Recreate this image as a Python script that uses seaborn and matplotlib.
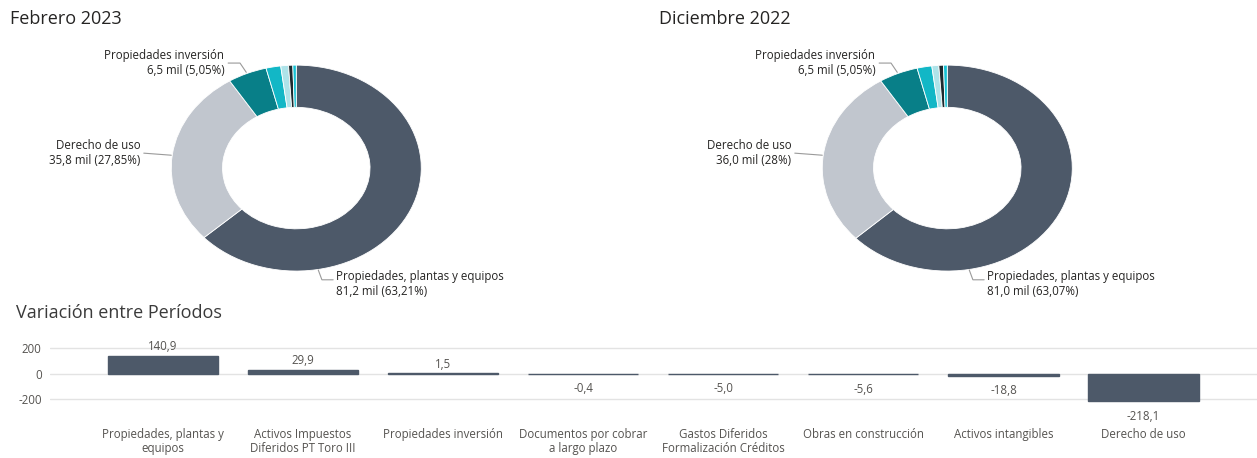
import numpy as np
import matplotlib
matplotlib.use('Agg')
import matplotlib.pyplot as plt
import seaborn as sns

sns.set_theme(style='white')
plt.rcParams['font.family'] = ['Open Sans', 'DejaVu Sans']

# --- data ---
slice_names = ['Propiedades, plantas y equipos', 'Derecho de uso', 'Propiedades inversión',
               'Activos Impuestos Diferidos PT Toro III', 'Activos intangibles',
               'Obras en construcción', 'Gastos Diferidos Formalización Créditos']
slice_colors = ['#4d5969', '#c1c6ce', '#087f88', '#12b7c6', '#aee3e9', '#1c2a2f', '#16c2d4']
feb_pct = [63.21, 27.85, 5.05, 1.9, 1.0, 0.55, 0.44]
dic_pct = [63.07, 28.0, 5.05, 1.9, 0.9, 0.6, 0.48]
feb_values = ['81,2 mil (63,21%)', '35,8 mil (27,85%)', '6,5 mil (5,05%)']
dic_values = ['81,0 mil (63,07%)', '36,0 mil (28%)', '6,5 mil (5,05%)']

var_cats = ['Propiedades, plantas y\nequipos', 'Activos Impuestos\nDiferidos PT Toro III',
            'Propiedades inversión', 'Documentos por cobrar\na largo plazo',
            'Gastos Diferidos\nFormalización Créditos', 'Obras en construcción',
            'Activos intangibles', 'Derecho de uso']
var_vals = [140.9, 29.9, 1.5, -0.4, -5.0, -5.6, -18.8, -218.1]
var_text = ['140,9', '29,9', '1,5', '-0,4', '-5,0', '-5,6', '-18,8', '-218,1']

title_col = '#252423'
label_col = '#555350'
line_col = '#9a9a9a'
small_fs = 8.3

fig = plt.figure(figsize=(12.57, 4.58), dpi=100)


def donut(ax, pct, values):
    ax.pie(pct, colors=slice_colors, startangle=90, counterclock=False,
           wedgeprops=dict(width=0.41, edgecolor='white', linewidth=0.6))
    ax.set_aspect('auto')
    ax.set_xlim(-1.25, 1.25)
    ax.set_ylim(-1.25, 1.25)

    # Propiedades inversión (top left)
    ax.plot([-0.40, -0.45, -0.545], [0.93, 1.02, 1.02], color=line_col, lw=0.8, clip_on=False)
    ax.text(-0.576, 1.02, slice_names[2] + '\n' + values[2], ha='right', va='center',
            ma='right', fontsize=small_fs, color=title_col, linespacing=1.2)
    # Derecho de uso (left)
    ax.plot([-1.0, -1.22], [0.125, 0.145], color=line_col, lw=0.8, clip_on=False)
    ax.text(-1.248, 0.145, slice_names[1] + '\n' + values[1], ha='right', va='center',
            ma='right', fontsize=small_fs, color=title_col, linespacing=1.2)
    # Propiedades, plantas y equipos (bottom)
    ax.plot([0.176, 0.205, 0.295], [-0.99, -1.085, -1.085], color=line_col, lw=0.8, clip_on=False)
    ax.text(0.32, -1.13, slice_names[0] + '\n' + values[0], ha='left', va='center',
            ma='left', fontsize=small_fs, color=title_col, linespacing=1.2)


ax1 = fig.add_axes([0.1114, 0.352, 0.2486, 0.562])
donut(ax1, feb_pct, feb_values)
ax2 = fig.add_axes([0.6293, 0.352, 0.2486, 0.562])
donut(ax2, dic_pct, dic_values)

fig.text(10 / 1257, 1 - 19 / 458, 'Febrero 2023', fontsize=13, color=title_col, va='center')
fig.text(659 / 1257, 1 - 19 / 458, 'Diciembre 2022', fontsize=13, color=title_col, va='center')
fig.text(16 / 1257, 1 - 313 / 458, 'Variación entre Períodos', fontsize=13, color='#3a3a3a', va='center')

# --- bar chart ---
ax3 = fig.add_axes([50 / 1257, 0.1009, 1207 / 1257, 0.156])
sns.barplot(x=var_cats, y=var_vals, color='#4d5969', saturation=1, width=0.786,
            edgecolor='#4d5969', linewidth=1.0, ax=ax3)
ax3.set_xlim(-0.807, 7.81)
ax3.set_ylim(-300, 260)
ax3.set_yticks([-200, 0, 200])
ax3.set_yticklabels(['-200', '0', '200'])
for y in [-200, 0, 200]:
    ax3.axhline(y, color='#e3e3e3', lw=1, zorder=0)
for s in ax3.spines.values():
    s.set_visible(False)
ax3.tick_params(axis='x', length=0, pad=12, labelsize=small_fs, labelcolor=label_col)
ax3.tick_params(axis='y', length=0, pad=6, labelsize=small_fs, labelcolor=label_col)
for lbl in ax3.get_xticklabels():
    lbl.set_linespacing(1.05)
ax3.set_ylabel('')
for i, (v, t) in enumerate(zip(var_vals, var_text)):
    if v >= 0:
        ax3.annotate(t, (i, v), xytext=(0, 2), textcoords='offset points',
                     ha='center', va='bottom', fontsize=small_fs, color=label_col)
    else:
        ax3.annotate(t, (i, v), xytext=(0, -6), textcoords='offset points',
                     ha='center', va='top', fontsize=small_fs, color=label_col)

fig.savefig('out.png', dpi=100)
